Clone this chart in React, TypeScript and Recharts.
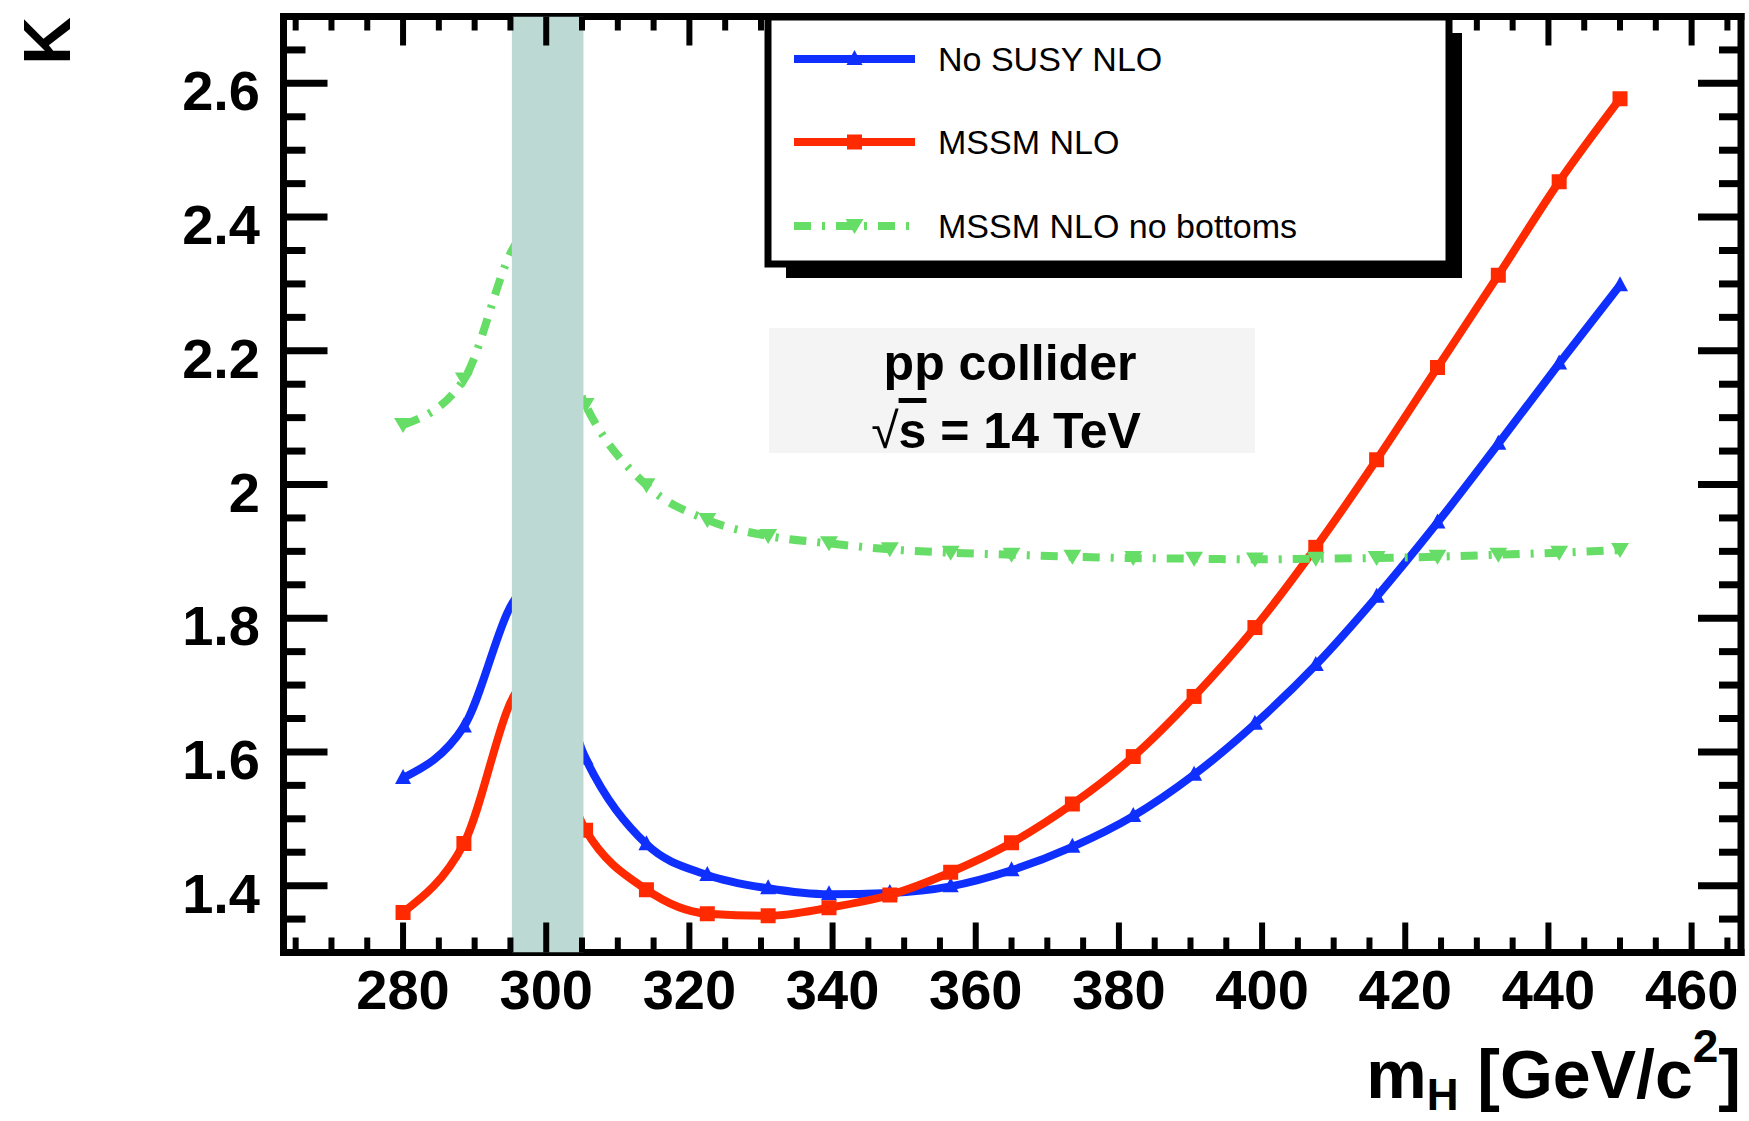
import React from 'react';
import { LineChart, Line, XAxis, YAxis, ReferenceArea, Legend, Customized } from 'recharts';

// Higgs mass points (GeV/c^2) and K-factors for the three calculations
const massPoints = [280, 288.5, 297, 305.5, 314, 322.5, 331, 339.5, 348, 356.5, 365, 373.5, 382, 390.5, 399, 407.5, 416, 424.5, 433, 441.5, 450];
const kNoSusyNLO = [1.561, 1.638, 1.84, 1.59, 1.462, 1.416, 1.396, 1.387, 1.389, 1.399, 1.423, 1.458, 1.504, 1.566, 1.642, 1.73, 1.832, 1.943, 2.061, 2.181, 2.298];
const kMssmNLO = [1.36, 1.463, 1.7, 1.483, 1.394, 1.358, 1.355, 1.367, 1.386, 1.42, 1.464, 1.522, 1.593, 1.683, 1.786, 1.906, 2.037, 2.175, 2.313, 2.453, 2.577];
const kMssmNLONoBottoms = [2.089, 2.157, 2.37, 2.119, 1.999, 1.947, 1.923, 1.912, 1.903, 1.898, 1.895, 1.892, 1.89, 1.889, 1.888, 1.889, 1.89, 1.892, 1.895, 1.898, 1.902];

const seriesNames = ['No SUSY NLO', 'MSSM NLO', 'MSSM NLO no bottoms'];

// Axis ranges and ticks
const xDomain = [263.3, 466.9];
const yDomain = [1.3, 2.7];
const xMajorTicks = [280, 300, 320, 340, 360, 380, 400, 420, 440, 460];
const xAllTicks = [265, 270, 275, 280, 285, 290, 295, 300, 305, 310, 315, 320, 325, 330, 335, 340, 345, 350, 355, 360, 365, 370, 375, 380, 385, 390, 395, 400, 405, 410, 415, 420, 425, 430, 435, 440, 445, 450, 455, 460, 465];
const yMajorTicks = [1.4, 1.6, 1.8, 2, 2.2, 2.4, 2.6];
const yAllTicks = [1.35, 1.4, 1.45, 1.5, 1.55, 1.6, 1.65, 1.7, 1.75, 1.8, 1.85, 1.9, 1.95, 2, 2.05, 2.1, 2.15, 2.2, 2.25, 2.3, 2.35, 2.4, 2.45, 2.5, 2.55, 2.6, 2.65];

// Shaded threshold region
const thresholdBand = [295.2, 305.2];

const data = massPoints.map((m, i) => ({
  m,
  noSusy: kNoSusyNLO[i],
  mssm: kMssmNLO[i],
  mssmNoB: kMssmNLONoBottoms[i],
}));

const FONT = '"Liberation Sans", Arial, Helvetica, sans-serif';

const BLUE = '#0f2fff';
const RED = '#ff2a00';
const GREEN = '#66dd66';
const GREEN_DASH = '17 11 3 11';

type MarkerKind = 'triUp' | 'square' | 'triDown';

const markerPath = (kind: MarkerKind, cx: number, cy: number) => {
  if (kind === 'triUp') return `M${cx},${cy - 9} L${cx + 8},${cy + 6} L${cx - 8},${cy + 6} Z`;
  if (kind === 'triDown') return `M${cx - 9},${cy - 7} L${cx + 9},${cy - 7} L${cx},${cy + 8} Z`;
  return `M${cx - 7.5},${cy - 7.5} h15 v15 h-15 Z`;
};

const seriesStyle: Record<string, { color: string; marker: MarkerKind; dash?: string }> = {
  noSusy: { color: BLUE, marker: 'triUp' },
  mssm: { color: RED, marker: 'square' },
  mssmNoB: { color: GREEN, marker: 'triDown', dash: GREEN_DASH },
};

const makeDot = (key: string) => (p: any) => {
  const s = seriesStyle[key];
  if (p.cx == null || p.cy == null) return <g key={`${key}-${p.index}`} />;
  return <path key={`${key}-${p.index}`} d={markerPath(s.marker, p.cx, p.cy)} fill={s.color} stroke="none" />;
};

const isMajorX = (v: number) => xMajorTicks.includes(v);
const isMajorY = (v: number) => yMajorTicks.includes(v);

const BottomTick = (props: any) => {
  const { x, y, payload } = props;
  const v = payload.value;
  const major = isMajorX(v);
  return (
    <g>
      <line x1={x} x2={x} y1={y} y2={y - (major ? 30 : 15)} stroke="#000" strokeWidth={6} />
      {major && (
        <text x={x} y={y + 56} textAnchor="middle" fontFamily={FONT} fontWeight="bold" fontSize={56} fill="#000">
          {v}
        </text>
      )}
    </g>
  );
};

const TopTick = (props: any) => {
  const { x, y, payload } = props;
  const major = isMajorX(payload.value);
  return <line x1={x} x2={x} y1={y} y2={y + (major ? 29 : 14)} stroke="#000" strokeWidth={6} />;
};

const LeftTick = (props: any) => {
  const { x, y, payload } = props;
  const v = payload.value;
  const major = isMajorY(v);
  return (
    <g>
      <line x1={x} x2={x + (major ? 44 : 22)} y1={y} y2={y} stroke="#000" strokeWidth={7} />
      {major && (
        <text x={x - 23.5} y={y + 27} textAnchor="end" fontFamily={FONT} fontWeight="bold" fontSize={56} fill="#000">
          {String(v)}
        </text>
      )}
    </g>
  );
};

const RightTick = (props: any) => {
  const { x, y, payload } = props;
  const major = isMajorY(payload.value);
  return <line x1={x} x2={x - (major ? 43 : 22)} y1={y} y2={y} stroke="#000" strokeWidth={7} />;
};

// Boxed legend with drop shadow, entries in series order
const LegendBox = (props: any) => {
  const payload = [...(props.payload || [])].sort(
    (a: any, b: any) => seriesNames.indexOf(a.value) - seriesNames.indexOf(b.value)
  );
  const rowY = [49, 132, 216];
  return (
    <svg width={720} height={290} style={{ display: 'block', overflow: 'visible' }}>
      <rect x={26} y={23} width={676} height={245} fill="#000" />
      <rect x={8} y={7} width={681} height={247} fill="#fff" stroke="#000" strokeWidth={7} />
      {payload.map((entry: any, i: number) => {
        const s = seriesStyle[entry.dataKey];
        if (!s) return null;
        const cy = rowY[i];
        return (
          <g key={entry.dataKey}>
            <line x1={34} x2={155} y1={cy} y2={cy} stroke={s.color} strokeWidth={8} strokeDasharray={s.dash} />
            <path d={markerPath(s.marker, 94.5, cy)} fill={s.color} />
            <text x={178} y={cy + 12} fontFamily={FONT} fontSize={34} fill="#000">
              {entry.value}
            </text>
          </g>
        );
      })}
    </svg>
  );
};

// Axis titles and the collider annotation
const Annotations = () => (
  <g>
    <text
      x={70}
      y={17}
      transform="rotate(-90 70 17)"
      textAnchor="end"
      fontFamily={FONT}
      fontWeight="bold"
      fontSize={66}
      fill="#000"
    >
      K
    </text>
    <text x={1741} y={1098} textAnchor="end" fontFamily={FONT} fontWeight="bold" fontSize={68} fill="#000">
      m
      <tspan dy={12} fontSize={44}>H</tspan>
      <tspan dy={-12}> [GeV/c</tspan>
      <tspan dy={-36} fontSize={46}>2</tspan>
      <tspan dy={36}>]</tspan>
    </text>
    <rect x={769} y={328} width={486} height={125} fill="#f4f4f4" />
    <text x={1010} y={380} textAnchor="middle" fontFamily={FONT} fontWeight="bold" fontSize={50} fill="#000">
      pp collider
    </text>
    <text x={1006} y={448} textAnchor="middle" fontFamily={FONT} fontWeight="bold" fontSize={50} fill="#000">
      <tspan fontWeight="normal">√</tspan>
      <tspan textDecoration="overline">s</tspan>
      <tspan> = 14 TeV</tspan>
    </text>
  </g>
);

const axisLineStyle = { stroke: '#000', strokeWidth: 7, strokeLinecap: 'square' as const };

export default function App() {
  return (
    <div style={{ position: 'absolute', left: 0, top: 0, width: 1749, height: 1121, background: '#fff' }}>
      <LineChart
        width={1749}
        height={1121}
        data={data}
        margin={{ top: 15.5, right: 7, bottom: 67.5, left: 183.5 }}
      >
        <XAxis
          dataKey="m"
          type="number"
          domain={xDomain}
          allowDataOverflow
          ticks={xAllTicks}
          interval={0}
          tickSize={0}
          tickMargin={0}
          tickLine={false}
          tick={BottomTick}
          axisLine={axisLineStyle}
          height={101}
        />
        <XAxis
          xAxisId="top"
          orientation="top"
          dataKey="m"
          type="number"
          domain={xDomain}
          allowDataOverflow
          ticks={xAllTicks}
          interval={0}
          tickSize={0}
          tickMargin={0}
          tickLine={false}
          tick={TopTick}
          axisLine={axisLineStyle}
          height={1}
        />
        <YAxis
          type="number"
          domain={yDomain}
          allowDataOverflow
          ticks={yAllTicks}
          interval={0}
          tickSize={0}
          tickMargin={0}
          tickLine={false}
          tick={LeftTick}
          axisLine={axisLineStyle}
          width={100}
        />
        <YAxis
          yAxisId="right"
          orientation="right"
          type="number"
          domain={yDomain}
          allowDataOverflow
          ticks={yAllTicks}
          interval={0}
          tickSize={0}
          tickMargin={0}
          tickLine={false}
          tick={RightTick}
          axisLine={axisLineStyle}
          width={1}
        />
        <Customized component={Annotations} />
        <Line
          type="monotone"
          dataKey="noSusy"
          name={seriesNames[0]}
          stroke={BLUE}
          strokeWidth={8}
          strokeLinejoin="round"
          dot={makeDot('noSusy')}
          activeDot={false}
          isAnimationActive={false}
        />
        <Line
          type="monotone"
          dataKey="mssm"
          name={seriesNames[1]}
          stroke={RED}
          strokeWidth={8}
          strokeLinejoin="round"
          dot={makeDot('mssm')}
          activeDot={false}
          isAnimationActive={false}
        />
        <Line
          type="monotone"
          dataKey="mssmNoB"
          name={seriesNames[2]}
          stroke={GREEN}
          strokeWidth={8}
          strokeDasharray={GREEN_DASH}
          dot={makeDot('mssmNoB')}
          activeDot={false}
          isAnimationActive={false}
        />
        <ReferenceArea
          x1={thresholdBand[0]}
          x2={thresholdBand[1]}
          fill="#bdd9d3"
          fillOpacity={1}
          stroke="none"
          ifOverflow="hidden"
          zIndex={1500}
        />
        <Legend
          layout="vertical"
          align="center"
          verticalAlign="middle"
          content={LegendBox}
          wrapperStyle={{ left: 760, top: 10, width: 720, height: 290 }}
        />
      </LineChart>
    </div>
  );
}
